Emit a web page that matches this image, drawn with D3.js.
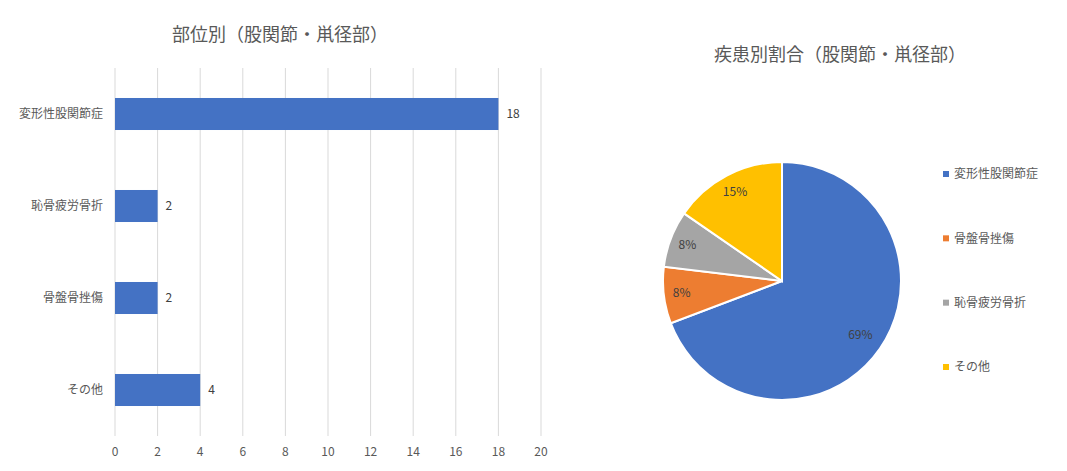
<!DOCTYPE html>
<html>
<head>
<meta charset="utf-8">
<script src="https://cdn.jsdelivr.net/npm/d3@7"></script>
<style>
  body { margin: 0; background: #fff; }
  svg { font-family: "Noto Sans CJK JP", "Noto Sans", sans-serif; }
</style>
</head>
<body>
<script>
// data
const barCategories = ["変形性股関節症", "恥骨疲労骨折", "骨盤骨挫傷", "その他"];
const barValues = [18, 2, 2, 4];
const xTicks = [0, 2, 4, 6, 8, 10, 12, 14, 16, 18, 20];

const pieCategories = ["変形性股関節症", "骨盤骨挫傷", "恥骨疲労骨折", "その他"];
const pieValues = [18, 2, 2, 4];
const pieColors = ["#4472c4", "#ed7d31", "#a5a5a5", "#ffc000"];

const w = 1067, h = 471;
const svg = d3.select("body").append("svg")
  .attr("width", w).attr("height", h);

const textColor = "#595959";

// ---- bar chart ----
const margin = { top: 68, left: 115, right: 526, bottom: 35 };
const x = d3.scaleLinear().domain([0, 20]).range([margin.left, w - margin.right]);
const y = d3.scaleBand().domain(barCategories)
  .range([margin.top, h - margin.bottom]).paddingInner(0.652).paddingOuter(0.326);

svg.append("text")
  .attr("x", 280).attr("y", 41)
  .attr("text-anchor", "middle")
  .style("font-size", "18px").style("fill", textColor)
  .text("部位別（股関節・鼡径部）");

const bars = svg.append("g");
bars.selectAll("line.grid").data(xTicks)
  .join("line").attr("class", "grid")
  .attr("x1", d => x(d)).attr("x2", d => x(d))
  .attr("y1", margin.top).attr("y2", h - margin.bottom)
  .style("stroke", "#d9d9d9").style("stroke-width", 1);

bars.selectAll("rect").data(barValues)
  .join("rect")
  .attr("x", x(0))
  .attr("y", (d, i) => y(barCategories[i]))
  .attr("width", d => x(d) - x(0))
  .attr("height", y.bandwidth())
  .style("fill", "#4472c4");

bars.selectAll("text.val").data(barValues)
  .join("text").attr("class", "val")
  .attr("x", d => x(d) + 8)
  .attr("y", (d, i) => y(barCategories[i]) + y.bandwidth() / 2)
  .attr("dy", "0.35em")
  .style("font-size", "12px").style("fill", "#404040")
  .text(d => d);

bars.selectAll("text.cat").data(barCategories)
  .join("text").attr("class", "cat")
  .attr("x", margin.left - 12)
  .attr("y", d => y(d) + y.bandwidth() / 2)
  .attr("dy", "0.35em")
  .attr("text-anchor", "end")
  .style("font-size", "12px").style("fill", textColor)
  .text(d => d);

bars.selectAll("text.tick").data(xTicks)
  .join("text").attr("class", "tick")
  .attr("x", d => x(d))
  .attr("y", h - margin.bottom + 16)
  .attr("dy", "0.35em")
  .attr("text-anchor", "middle")
  .style("font-size", "12px").style("fill", textColor)
  .text(d => d);

// ---- pie chart ----
const cx = 782, cy = 281, r = 119;
const total = d3.sum(pieValues);

svg.append("text")
  .attr("x", 840).attr("y", 61)
  .attr("text-anchor", "middle")
  .style("font-size", "18px").style("fill", textColor)
  .text("疾患別割合（股関節・鼡径部）");

const pie = d3.pie().sort(null).value(d => d);
const arc = d3.arc().innerRadius(0).outerRadius(r);
const labelArc = d3.arc().innerRadius(r * 0.85).outerRadius(r * 0.85);

const pg = svg.append("g").attr("transform", `translate(${cx},${cy})`);
const slices = pie(pieValues);
pg.selectAll("path").data(slices)
  .join("path")
  .attr("d", arc)
  .style("fill", (d, i) => pieColors[i])
  .style("stroke", "#fff").style("stroke-width", 2);

pg.selectAll("text").data(slices)
  .join("text")
  .attr("transform", (d, i) => {
    const c = i === 0 ? d3.arc().innerRadius(r * 0.8).outerRadius(r * 0.8).centroid(d) : labelArc.centroid(d);
    return `translate(${c})`;
  })
  .attr("dy", "0.35em")
  .attr("text-anchor", "middle")
  .style("font-size", "12px").style("fill", "#404040")
  .text(d => Math.round(d.value / total * 100) + "%");

const legend = svg.append("g");
const ly = d3.scalePoint().domain(pieCategories).range([174, 367]);
legend.selectAll("rect").data(pieCategories)
  .join("rect")
  .attr("x", 943).attr("y", d => ly(d) - 3)
  .attr("width", 6).attr("height", 6)
  .style("fill", (d, i) => pieColors[i]);
legend.selectAll("text").data(pieCategories)
  .join("text")
  .attr("x", 954).attr("y", d => ly(d))
  .attr("dy", "0.35em")
  .style("font-size", "12px").style("fill", textColor)
  .text(d => d);
</script>
</body>
</html>
